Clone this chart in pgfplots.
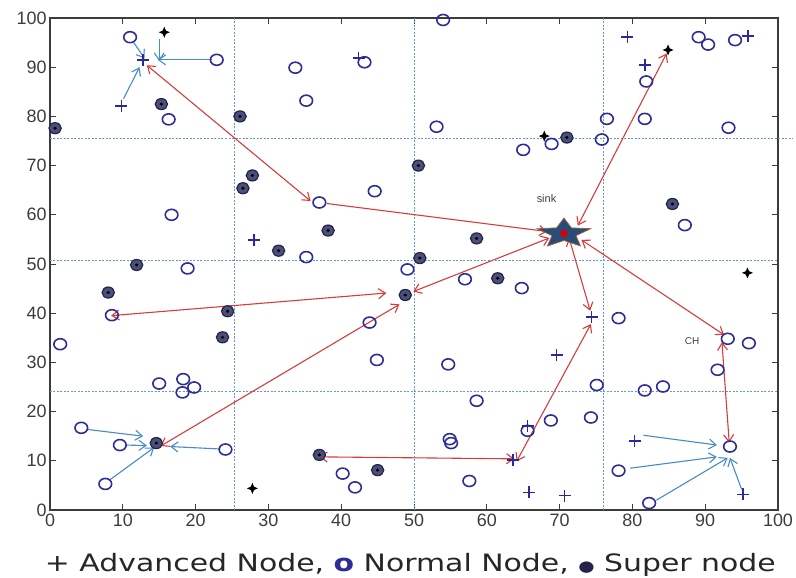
\documentclass[border=0pt]{standalone}
\usepackage{fontspec}
\setmainfont{Liberation Sans}
\newfontfamily\dejavu{DejaVu Sans}
\usepackage{graphicx}
\usepackage{pgfplots}
\pgfplotsset{compat=1.18}
\usetikzlibrary{arrows.meta}
\definecolor{normc}{RGB}{45,45,150}
\definecolor{advc}{RGB}{40,40,160}
\definecolor{supfill}{RGB}{75,80,120}
\definecolor{supring}{RGB}{35,35,75}
\definecolor{gridc}{RGB}{100,150,210}
\definecolor{redarr}{RGB}{215,60,60}
\definecolor{bluearr}{RGB}{70,140,200}
\definecolor{starc}{RGB}{40,75,120}
\definecolor{axc}{RGB}{60,60,60}

\pgfdeclareplotmark{super}{%
  \pgfpathcircle{\pgfpointorigin}{\pgfplotmarksize}%
  \pgfusepathqfillstroke
  \begin{pgfscope}%
  \pgfpathcircle{\pgfpointorigin}{0.3\pgfplotmarksize}%
  \pgfsetfillcolor{black}\pgfusepathqfill
  \end{pgfscope}}
\pgfdeclareplotmark{blk}{%
  \pgfpathmoveto{\pgfpoint{\pgfplotmarksize}{0pt}}%
  \pgfpathlineto{\pgfpoint{0.3\pgfplotmarksize}{0.3\pgfplotmarksize}}%
  \pgfpathlineto{\pgfpoint{0pt}{\pgfplotmarksize}}%
  \pgfpathlineto{\pgfpoint{-0.3\pgfplotmarksize}{0.3\pgfplotmarksize}}%
  \pgfpathlineto{\pgfpoint{-\pgfplotmarksize}{0pt}}%
  \pgfpathlineto{\pgfpoint{-0.3\pgfplotmarksize}{-0.3\pgfplotmarksize}}%
  \pgfpathlineto{\pgfpoint{0pt}{-\pgfplotmarksize}}%
  \pgfpathlineto{\pgfpoint{0.3\pgfplotmarksize}{-0.3\pgfplotmarksize}}%
  \pgfpathclose
  \pgfusepathqfill}
\pgfdeclareplotmark{sinkstar}{%
  \pgfpathmoveto{\pgfpoint{0pt}{\pgfplotmarksize}}%
  \pgfpathlineto{\pgfpoint{-0.265\pgfplotmarksize}{0.364\pgfplotmarksize}}%
  \pgfpathlineto{\pgfpoint{-0.951\pgfplotmarksize}{0.309\pgfplotmarksize}}%
  \pgfpathlineto{\pgfpoint{-0.428\pgfplotmarksize}{-0.139\pgfplotmarksize}}%
  \pgfpathlineto{\pgfpoint{-0.588\pgfplotmarksize}{-0.809\pgfplotmarksize}}%
  \pgfpathlineto{\pgfpoint{0pt}{-0.45\pgfplotmarksize}}%
  \pgfpathlineto{\pgfpoint{0.588\pgfplotmarksize}{-0.809\pgfplotmarksize}}%
  \pgfpathlineto{\pgfpoint{0.428\pgfplotmarksize}{-0.139\pgfplotmarksize}}%
  \pgfpathlineto{\pgfpoint{0.951\pgfplotmarksize}{0.309\pgfplotmarksize}}%
  \pgfpathlineto{\pgfpoint{0.265\pgfplotmarksize}{0.364\pgfplotmarksize}}%
  \pgfpathclose
  \pgfusepathqfillstroke}

\tikzset{
  rarr/.style={redarr, line width=1.1bp, {Straight Barb[length=7bp,width=10bp]}-{Straight Barb[length=7bp,width=10bp]}},
  rarr1/.style={redarr, line width=1.1bp, -{Straight Barb[length=7bp,width=10bp]}},
  barr/.style={bluearr, line width=1.1bp, -{Straight Barb[length=7bp,width=10bp]}},
  gline/.style={gridc, line width=1bp, dash pattern=on 2bp off 1.5bp},
}

\begin{document}
\begin{tikzpicture}
\begin{axis}[
  scale only axis,
  width=728bp, height=492bp,
  xmin=0, xmax=100, ymin=0, ymax=100,
  xtick={0,10,...,100}, ytick={0,10,...,100},
  tick align=inside,
  major tick length=6bp,
  tick style={axc, line width=0.9bp},
  axis line style={axc, line width=1.5bp},
  ticklabel style={font=\fontsize{18}{20}\selectfont, text=axc},
  /pgf/number format/assume math mode=true,
  clip=false,
  xlabel={\dejavu\fontsize{24}{28}\selectfont\scalebox{1.25}[1]{+ Advanced Node, {\color{normc}\textbf{o}} Normal Node, {\color{supring}\fontsize{15}{16}\selectfont●} Super node}},
  xlabel style={at={(axis description cs:0.495,-0.126)}, anchor=base, text=black!85},
]
% zone lines
\addplot[gline, forget plot] coordinates {(25.3,0) (25.3,100)};
\addplot[gline, forget plot] coordinates {(50,0) (50,100)};
\addplot[gline, forget plot] coordinates {(76,0) (76,100)};
\addplot[gline, forget plot] coordinates {(0,75.5) (102,75.5)};
\addplot[gline, forget plot] coordinates {(0,50.8) (100,50.8)};
\addplot[gline, forget plot] coordinates {(0,24.1) (100,24.1)};

% blue arrows
\addplot[barr] coordinates {(22.3,91.5) (14.8,91.5)};
\addplot[barr] coordinates {(15.0,95.8) (15.0,91.3)};
\addplot[barr] coordinates {(11.5,95.0) (13.0,91.8)};
\addplot[barr] coordinates {(10.1,83.6) (12.3,90.0)};
\addplot[barr] coordinates {(5.0,16.4) (12.8,15.0)};
\addplot[barr] coordinates {(10.3,13.2) (13.3,13.1)};
\addplot[barr] coordinates {(23.4,12.4) (16.5,12.9)};
\addplot[barr] coordinates {(8.1,6.0) (14.3,12.7)};
\addplot[barr] coordinates {(81.5,15.2) (91.6,13.2)};
\addplot[barr] coordinates {(79.7,8.5) (91.6,10.8)};
\addplot[barr] coordinates {(83.3,2.0) (93.1,10.6)};
\addplot[barr] coordinates {(95.0,4.2) (93.4,10.6)};

% red arrows
\addplot[rarr] coordinates {(13.3,90.4) (35.8,62.8)};
\addplot[rarr1] coordinates {(38.0,62.3) (68.3,56.6)};
\addplot[rarr] coordinates {(72.5,57.8) (84.7,92.8)};
\addplot[rarr] coordinates {(73.0,54.9) (92.6,35.6)};
\addplot[rarr] coordinates {(71.3,55.3) (74.2,40.5)};
\addplot[rarr] coordinates {(68.6,55.3) (49.9,44.4)};
\addplot[rarr] coordinates {(8.4,39.5) (46.2,44.1)};
\addplot[rarr] coordinates {(15.2,13.0) (48.0,41.8)};
\addplot[rarr] coordinates {(37.0,10.8) (63.8,10.4)};
\addplot[rarr] coordinates {(64.1,9.9) (74.3,37.8)};
\addplot[rarr] coordinates {(92.3,34.1) (93.3,13.7)};

% normal nodes
\addplot[only marks, mark=o, mark size=5.5bp, line width=1.6bp, normc, mark options={xscale=1.15}] coordinates {
(11,96.1) (22.9,91.5) (16.3,79.4) (33.7,89.9) (35.2,83.2) (43.2,91.0) (37.0,62.5) (44.6,64.8)
(16.7,60) (35.2,51.4) (18.9,49.1) (54.0,99.6) (81.9,87.1) (89.1,96.1) (90.4,94.6) (94.1,95.5)
(53.1,77.9) (65.0,73.2) (68.9,74.4) (76.5,79.5) (75.8,75.3) (81.7,79.5) (93.2,77.7) (87.2,57.9)
(8.5,39.6) (1.4,33.7) (15.0,25.7) (18.3,26.6) (19.8,24.9) (18.2,23.9) (4.3,16.7) (9.6,13.2)
(24.1,12.3) (7.6,5.3) (40.2,7.4) (41.9,4.6) (43.9,38.1) (44.9,30.5) (49.1,48.9) (57.0,46.9)
(64.8,45.1) (78.1,39.0) (93.1,34.8) (96.0,33.9) (91.7,28.5) (54.7,29.6) (75.1,25.4) (81.7,24.3)
(84.2,25.1) (58.6,22.2) (68.8,18.2) (65.6,16.1) (74.3,18.8) (54.9,14.4) (55.1,13.6) (93.4,12.9)
(78.1,8.0) (57.6,5.9) (82.3,1.4)
};

% super nodes
\addplot[only marks, mark=super, mark size=5.5bp, line width=1.2bp, draw=supring, fill=supfill, mark options={xscale=1.12}] coordinates {
(15.3,82.5) (0.7,77.6) (26.1,80) (27.8,68) (26.5,65.4) (50.6,70) (38.2,56.8) (31.4,52.7)
(11.9,49.8) (71.0,75.7) (85.5,62.2) (58.6,55.2) (50.8,51.2) (8.0,44.2) (24.4,40.4) (23.7,35.1)
(14.6,13.6) (37.0,11.2) (45.0,8.1) (48.8,43.7) (61.5,47.1)
};

% advanced nodes
\addplot[only marks, mark=+, mark size=6bp, line width=1.5bp, advc] coordinates {
(12.8,91.5) (9.8,82.1) (42.4,91.9) (28.0,54.9) (79.3,96.1) (81.7,90.4) (95.9,96.3) (74.4,39.2)
(69.6,31.5) (65.6,17.1) (80.3,14.0) (63.6,10.2) (65.8,3.6) (70.7,2.9) (95.2,3.2)
};

% black nodes
\addplot[only marks, mark=blk, mark size=5.5bp, black] coordinates {
(15.7,97.1) (27.8,4.4) (67.9,76.0) (84.9,93.5) (95.8,48.2)
};

% sink
\addplot[only marks, mark=sinkstar, mark size=28bp, mark options={yscale=0.55, fill=starc, draw=orange!50!starc, line width=0.8bp}] coordinates {(70.6,56.2)};
\addplot[only marks, mark=*, mark size=3.5bp, red!85!black] coordinates {(70.6,56.2)};

\node[font=\fontsize{11}{12}\selectfont, text=black!75] at (axis cs:68.2,63.3) {sink};
\node[font=\fontsize{10}{12}\selectfont, text=black!75] at (axis cs:88.2,34.4) {CH};
\end{axis}
\pgfresetboundingbox
\path (-50bp,-68bp) rectangle (746bp,510bp);
\end{tikzpicture}
\end{document}
